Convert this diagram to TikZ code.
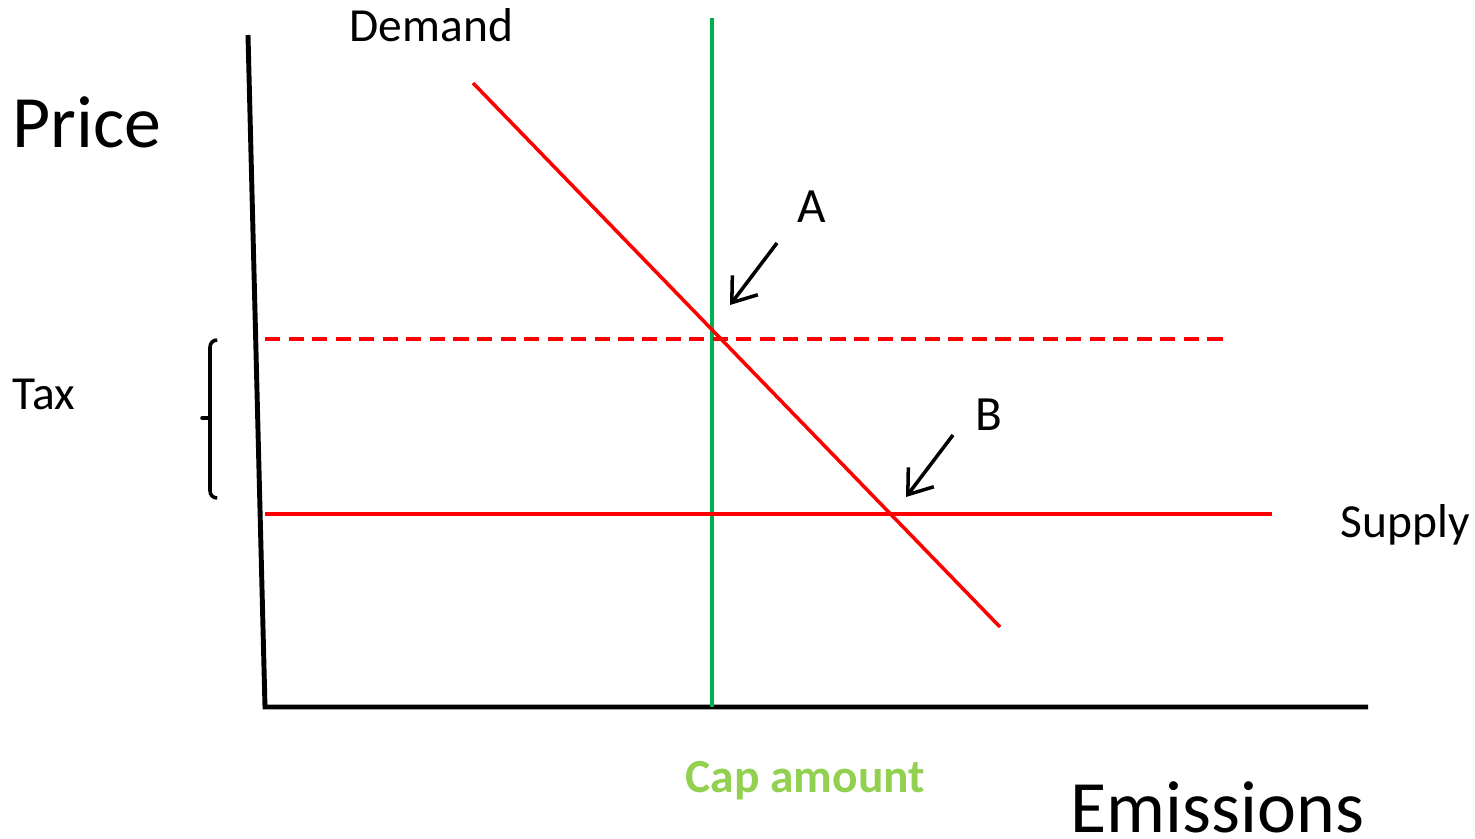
\documentclass[tikz,border=0pt]{standalone}
\usepackage{fontspec}
\setmainfont{Carlito}
\usetikzlibrary{arrows.meta}
\definecolor{rojo}{HTML}{FF0000}
\definecolor{verde}{HTML}{00B050}
\definecolor{lima}{HTML}{92D050}
\begin{document}
\begin{tikzpicture}[x=0.01cm, y=-0.01cm,
  eje/.style={line width=1.4pt, black},
  curva/.style={line width=1pt, rojo},
  tope/.style={line width=1pt, verde},
  flecha/.style={-{Straight Barb[length=2.2mm, width=3.2mm]}, line width=1pt},
  texto/.style={inner sep=0pt, anchor=base west, font=\fontsize{13.5}{16}\selectfont},
  grande/.style={texto, font=\fontsize{21}{24}\selectfont}
]
\useasboundingbox (0,0) rectangle (1475,839);
% ejes
\coordinate (ytop) at (248,35);
\coordinate (orig) at (265,707);
\coordinate (xend) at (1368,707);
\draw[eje] (ytop) -- (orig) -- (xend);

% curvas
\coordinate (d1) at (473,83);
\coordinate (d2) at (1000,627);
\coordinate (t1) at (265,339);
\coordinate (t2) at (1225,339);
\coordinate (s1) at (265,514);
\coordinate (s2) at (1272,514);
\coordinate (c1) at (712,18);
\coordinate (c2) at (712,707);
\draw[tope] (c1) -- (c2);
\draw[curva, dash pattern=on 4.3pt off 2.4pt] (t1) -- (t2);
\draw[curva] (s1) -- (s2);
\draw[curva] (d1) -- (d2);

% etiquetas
\node[grande] (price) at (12,147) {Price};
\node[grande] (emis) at (1070,832) {Emissions};
\node[texto] (demand) at (349,41) {Demand};
\node[texto] (supply) at (1340,537) {Supply};
\node[texto] (tax) at (12,409) {Tax};
\node[texto, font=\fontsize{13.5}{16}\selectfont\bfseries, text=lima] (cap) at (685,792) {Cap amount};
\node[texto, font=\fontsize{14}{16}\selectfont] (ptA) at (797,222) {A};
\node[texto, font=\fontsize{14}{16}\selectfont] (ptB) at (975,430) {B};

% flechas
\coordinate (a1) at (777,243);
\coordinate (a2) at (730,305);
\coordinate (b1) at (953,435);
\coordinate (b2) at (906,497);
\draw[flecha] (a1) -- (a2);
\draw[flecha] (b1) -- (b2);

% llave del impuesto
\draw[line width=1pt, rounded corners=2pt] (217,340) -- (210,340) -- (210,498) -- (217,498);
\draw[line width=1pt, line cap=round] (210,418) -- (202,418);
\end{tikzpicture}
\end{document}
